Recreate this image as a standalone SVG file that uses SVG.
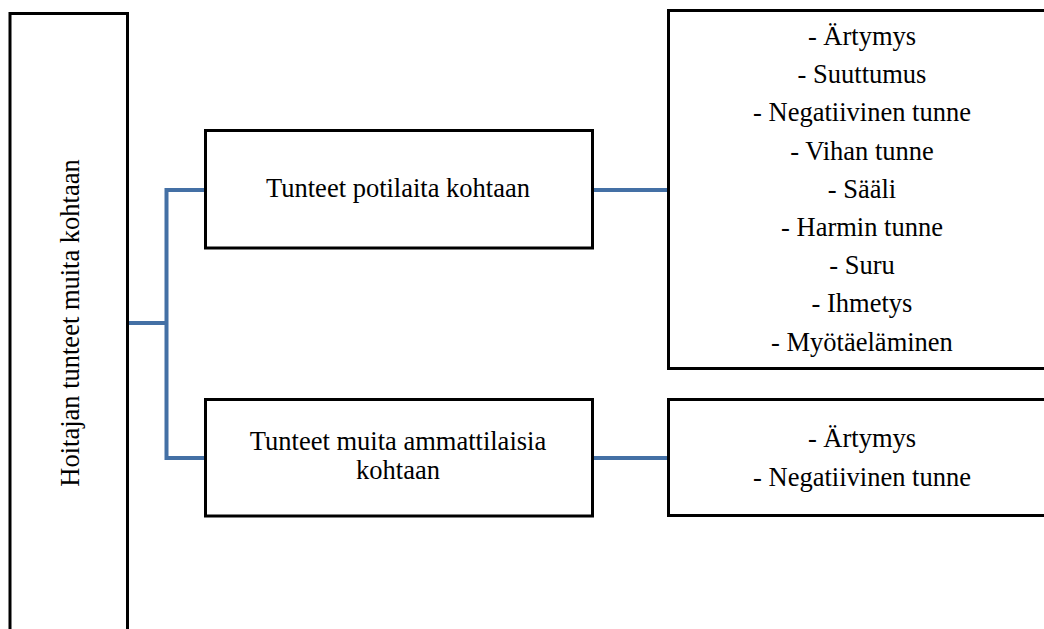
<svg xmlns="http://www.w3.org/2000/svg" width="1044" height="629" viewBox="0 0 1044 629">
  <style>
    .box { fill: #ffffff; stroke: #000000; stroke-width: 3; }
    .link { fill: none; stroke: #4470a5; stroke-width: 4; }
    .lbl { font-family: "Liberation Serif", "Times New Roman", serif; font-size: 26.5px; fill: #000000; text-anchor: middle; }
  </style>
  <rect width="1044" height="629" fill="#ffffff"/>

  <!-- connectors -->
  <g id="connectors">
    <path class="link" d="M128,323 H166.5"/>
    <path class="link" d="M205,190 H166.5 V458 H205"/>
    <path class="link" d="M592,190 H668"/>
    <path class="link" d="M592,458 H668"/>
  </g>

  <!-- root -->
  <g id="root">
    <rect class="box" x="10" y="13.5" width="117.5" height="640"/>
    <text class="lbl" transform="translate(79,323) rotate(-90)">Hoitajan tunteet muita kohtaan</text>
  </g>

  <!-- patients branch -->
  <g id="patients">
    <rect class="box" x="205.5" y="130.5" width="387" height="117.5"/>
    <text class="lbl" x="398" y="197">Tunteet potilaita kohtaan</text>
  </g>

  <!-- other professionals branch -->
  <g id="professionals">
    <rect class="box" x="205.5" y="399.5" width="387" height="116.5"/>
    <text class="lbl" x="398" y="450">Tunteet muita ammattilaisia</text>
    <text class="lbl" x="398" y="479">kohtaan</text>
  </g>

  <!-- feelings towards patients -->
  <g id="patients-list">
    <rect class="box" x="668.5" y="10.5" width="400" height="358"/>
    <text class="lbl" x="862" y="45">- Ärtymys</text>
    <text class="lbl" x="862" y="83.2">- Suuttumus</text>
    <text class="lbl" x="862" y="121.4">- Negatiivinen tunne</text>
    <text class="lbl" x="862" y="159.6">- Vihan tunne</text>
    <text class="lbl" x="862" y="197.8">- Sääli</text>
    <text class="lbl" x="862" y="236">- Harmin tunne</text>
    <text class="lbl" x="862" y="274.2">- Suru</text>
    <text class="lbl" x="862" y="312.4">- Ihmetys</text>
    <text class="lbl" x="862" y="350.6">- Myötäeläminen</text>
  </g>

  <!-- feelings towards other professionals -->
  <g id="professionals-list">
    <rect class="box" x="668.5" y="399.5" width="400" height="116"/>
    <text class="lbl" x="862" y="447">- Ärtymys</text>
    <text class="lbl" x="862" y="486">- Negatiivinen tunne</text>
  </g>
</svg>
